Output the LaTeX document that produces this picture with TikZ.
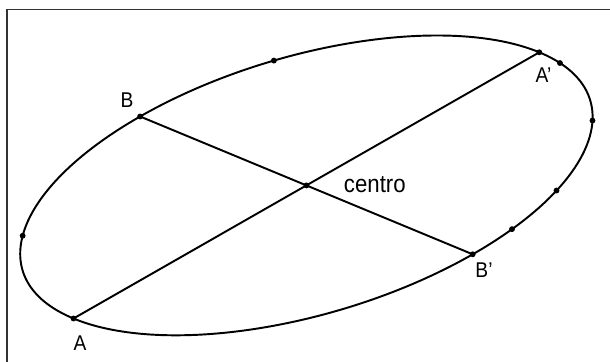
\documentclass[tikz,border=0pt]{standalone}
\usepackage{fontspec}
\setmainfont{Liberation Sans}[FakeStretch=0.9]

\tikzset{
  dot/.style={circle, fill, inner sep=0pt, minimum size=4.4pt},
  lbl/.style={inner sep=0pt, font=\fontsize{16}{19}\selectfont},
}

\begin{document}
\begin{tikzpicture}[x=0.75pt,y=0.75pt,line width=1.45pt]
\useasboundingbox (0,0) rectangle (610,361);
% frame (only top and left edges show)
\draw[black!80, line width=1.3pt] (6.7,-5) |- (620,351.5);

\node[dot] (ctr) at (306.4,175.6) {};

% ellipse from its conjugate semi-diameters
\begin{scope}[cm={232.9,133.1,166.3,-68.9,(ctr)}]
  \draw (0,0) circle (1);
  \node[dot] (Ap) at (0:1) {};
  \node[dot] (Bp) at (90:1) {};
  \node[dot] (A) at (180:1) {};
  \node[dot] (B) at (270:1) {};
  \foreach \t [count=\i] in {7.9,37,64.6,79.6,223,299}
    \node[dot] (p\i) at (\t:1) {};
\end{scope}

\draw (A.center) -- (Ap.center);
\draw (B.center) -- (Bp.center);

\node[lbl] (lA) at (80,18) {A};
\node[lbl] (lB) at (127,261) {B};
\node[lbl] (lAp) at (543.5,285.5) {A'};
\node[lbl] (lBp) at (484,91) {B'};
\node[lbl, anchor=west, font=\fontsize{18.5}{21}\selectfont] (lctr) at (343,176.5) {centro};
\end{tikzpicture}
\end{document}
